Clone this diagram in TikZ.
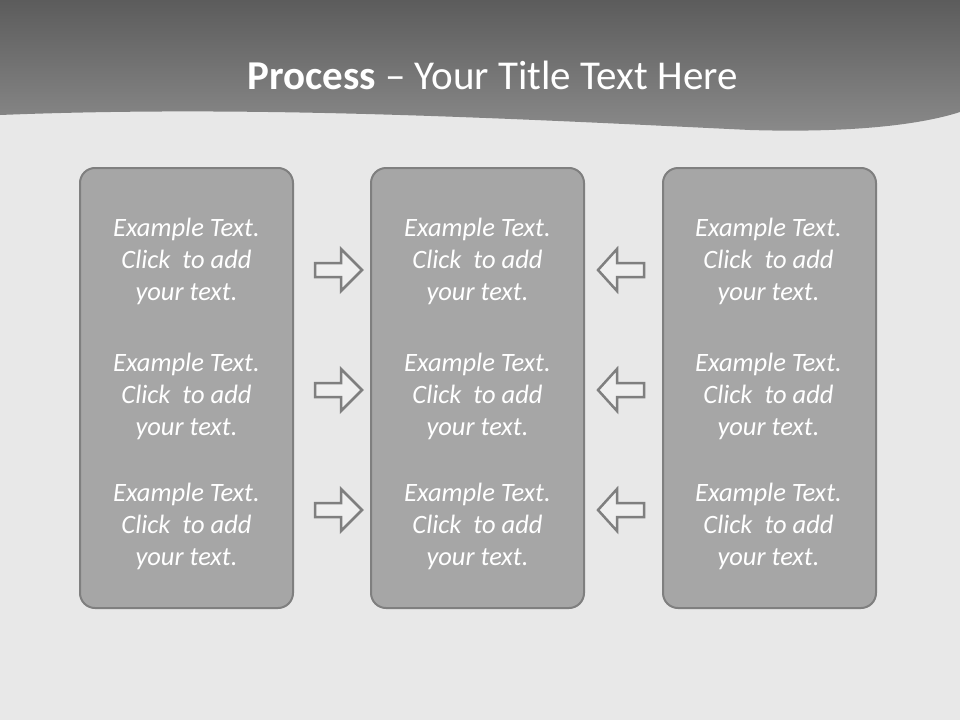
\documentclass[tikz,border=0pt]{standalone}
\usepackage{fontspec}
\setmainfont{Carlito}
\begin{document}
\begin{tikzpicture}[x=1pt,y=-1pt,
  panel/.style={draw=boxedge,fill=boxfill,line width=2pt,rounded corners=15pt},
  body/.style={align=center,text=white,font=\fontsize{26.5}{32}\selectfont\itshape,inner sep=0pt},
  arrowshape/.style={draw=arrowedge,fill=arrowfill,line width=2.5pt,line join=miter}]
\definecolor{bg}{HTML}{E8E8E8}
\definecolor{boxfill}{HTML}{A6A6A6}
\definecolor{boxedge}{HTML}{7F7F7F}
\definecolor{arrowedge}{HTML}{7F7F7F}
\definecolor{arrowfill}{HTML}{EFEFEF}
\definecolor{bandtop}{HTML}{5C5C5C}
\definecolor{bandbot}{HTML}{8A8A8A}
\useasboundingbox (0,0) rectangle (960,720);
\fill[bg] (0,0) rectangle (960,720);
% title band
\shade[top color=bandtop,bottom color=bandbot]
  (0,0) -- (960,0) -- (960,112)
  .. controls (920,125) and (850,133) .. (750,130)
  .. controls (500,118) and (250,105) .. (0,115) -- cycle;
\node[text=white,inner sep=0pt] (title) at (492.5,75)
  {\fontsize{41}{44}\selectfont\textbf{Process} – Your Title Text Here};
% panels
\draw[panel] (80,168) rectangle (293,608);
\draw[panel] (371,168) rectangle (584,608);
\draw[panel] (663,168) rectangle (876,608);
% texts
\foreach \cx/\nm in {186.5/l,477.5/m,768.5/r}{
  \foreach \cy/\k in {261/a,396/b,526/c}{
    \node[body] (t\nm\k) at (\cx,\cy) {Example Text.\\Click\ \ to add\\your text.};
  }
}
% arrows
\foreach \c in {270,390,510}{
  \draw[arrowshape] (315,\c-7) -- (341,\c-7) -- (341,\c-21) -- (362,\c)
     -- (341,\c+21) -- (341,\c+7) -- (315,\c+7) -- cycle;
  \draw[arrowshape] (644,\c-7) -- (617,\c-7) -- (617,\c-21) -- (598,\c)
     -- (617,\c+21) -- (617,\c+7) -- (644,\c+7) -- cycle;
}
\end{tikzpicture}
\end{document}
